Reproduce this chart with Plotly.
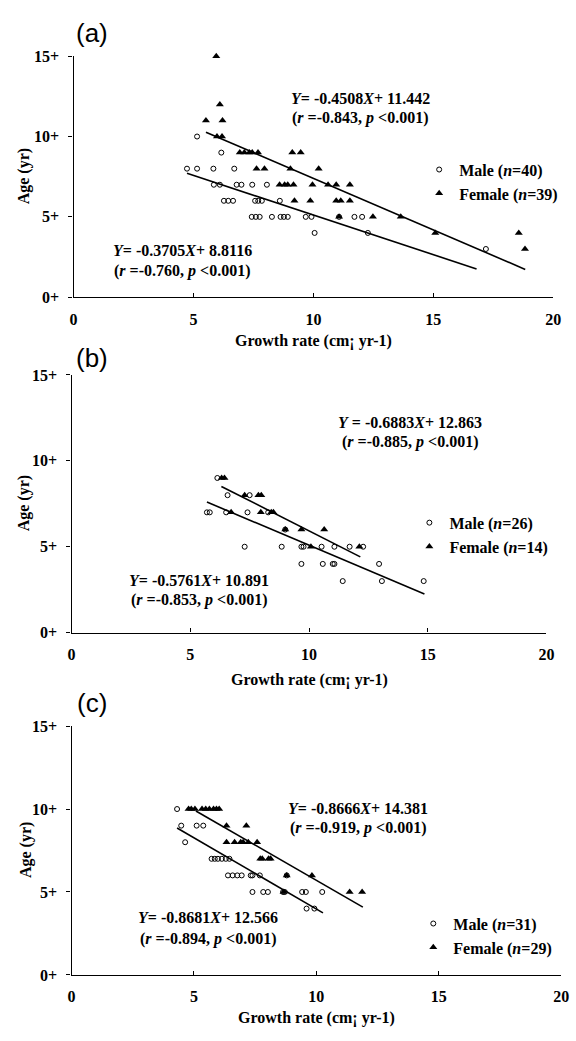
import plotly.graph_objects as go

W, H = 576, 1041

# ---------------- data (growth rate, age) ----------------
# Panel (a)
a_male_growth = [5.15, 6.16, 4.73, 5.15, 5.83, 6.70,
                 5.85, 6.10, 6.80, 7.00, 7.45, 8.06,
                 6.27, 6.45, 6.65, 7.57, 7.70, 7.85, 8.60,
                 7.43, 7.60, 7.76, 8.27, 8.63, 8.77, 8.93, 9.68, 9.92, 11.07, 11.71, 12.03,
                 10.05, 12.27, 17.19]
a_male_age = [10, 9, 8, 8, 8, 8,
              7, 7, 7, 7, 7, 7,
              6, 6, 6, 6, 6, 6, 6,
              5, 5, 5, 5, 5, 5, 5, 5, 5, 5, 5, 5,
              4, 4, 3]
a_female_growth = [5.95, 6.10, 5.52, 6.21, 5.98, 6.19,
                   6.93, 7.12, 7.33, 7.45, 7.69, 9.12, 9.47,
                   7.63, 7.96, 9.04, 10.22,
                   8.59, 8.80, 8.93, 9.17, 9.96, 10.61, 10.95, 11.52,
                   9.21, 9.87, 10.95, 11.14, 11.52,
                   11.07, 12.48, 13.64,
                   15.08, 18.56, 18.82]
a_female_age = [15, 12, 11, 11, 10, 10,
                9, 9, 9, 9, 9, 9, 9,
                8, 8, 8, 8,
                7, 7, 7, 7, 7, 7, 7, 7,
                6, 6, 6, 6, 6,
                5, 5, 5,
                4, 4, 3]
a_male_fit_x = [4.73, 16.80]
a_male_fit_y = [7.71, 1.76]
a_female_fit_x = [5.52, 18.83]
a_female_fit_y = [10.27, 1.73]

# Panel (b)
b_male_growth = [6.14, 6.57, 7.50,
                 5.70, 5.82, 6.51, 7.41, 8.28,
                 9.00,
                 7.29, 8.85, 9.68, 9.77, 10.53, 11.07, 11.71, 12.28,
                 9.68, 10.58, 11.00, 11.07, 12.95,
                 11.42, 13.07, 14.83]
b_male_age = [9, 8, 8,
              7, 7, 7, 7, 7,
              6,
              5, 5, 5, 5, 5, 5, 5, 5,
              4, 4, 4, 4, 4,
              3, 3, 3]
b_female_growth = [6.32, 6.44, 7.29, 7.87, 7.99,
                   6.72, 7.97, 8.41, 8.50,
                   9.00, 9.68, 10.64,
                   10.08, 12.12]
b_female_age = [9, 9, 8, 8, 8,
                7, 7, 7, 7,
                6, 6, 6,
                5, 5]
b_male_fit_x = [5.70, 14.86]
b_male_fit_y = [7.60, 2.25]
b_female_fit_x = [6.31, 12.16]
b_female_fit_y = [8.51, 4.41]

# Panel (c)
c_male_growth = [4.31, 4.48, 5.11, 5.38, 4.64,
                 5.72, 5.85, 5.98, 6.14, 6.30, 6.45,
                 6.39, 6.58, 6.77, 6.95, 7.32, 7.39, 7.69, 8.79,
                 7.39, 7.83, 8.02, 8.64, 8.71, 9.42, 9.57, 10.24,
                 9.60, 9.92]
c_male_age = [10, 9, 9, 9, 8,
              7, 7, 7, 7, 7, 7,
              6, 6, 6, 6, 6, 6, 6, 6,
              5, 5, 5, 5, 5, 5, 5, 5,
              4, 4]
c_female_growth = [4.78, 4.89, 5.04, 5.33, 5.48, 5.63, 5.80, 5.92, 6.03,
                   6.33, 7.14,
                   6.33, 6.66, 6.91, 7.01, 7.22, 7.58,
                   7.71, 7.79, 8.05, 8.13,
                   8.79, 9.82,
                   8.66, 11.36, 11.87]
c_female_age = [10, 10, 10, 10, 10, 10, 10, 10, 10,
                9, 9,
                8, 8, 8, 8, 8, 8,
                7, 7, 7, 7,
                6, 6,
                5, 5, 5]
c_male_fit_x = [4.31, 10.27]
c_male_fit_y = [8.86, 3.74]
c_female_fit_x = [5.08, 11.90]
c_female_fit_y = [9.88, 4.09]

panel_labels = ["(a)", "(b)", "(c)"]
male_names = ["Male (<i>n</i>=40)", "Male (<i>n</i>=26)", "Male (<i>n</i>=31)"]
female_names = ["Female (<i>n</i>=39)", "Female (<i>n</i>=14)", "Female (<i>n</i>=29)"]
eq_top = [["<i>Y</i>= -0.4508<i>X</i>+ 11.442", "(<i>r</i> =-0.843, <i>p</i> <0.001)"],
          ["<i>Y</i> = -0.6883<i>X</i>+ 12.863", "(<i>r</i> =-0.885, <i>p</i> <0.001)"],
          ["<i>Y</i>= -0.8666<i>X</i>+ 14.381", "(<i>r</i> =-0.919, <i>p</i> <0.001)"]]
eq_bot = [["<i>Y</i>= -0.3705<i>X</i>+ 8.8116", "(<i>r</i> =-0.760, <i>p</i> <0.001)"],
          ["<i>Y</i>= -0.5761<i>X</i>+ 10.891", "(<i>r</i> =-0.853, <i>p</i> <0.001)"],
          ["<i>Y</i>= -0.8681<i>X</i>+ 12.566", "(<i>r</i> =-0.894, <i>p</i> <0.001)"]]
x_tick_vals = [0, 5, 10, 15, 20]
x_tick_text = ["0", "5", "10", "15", "20"]
y_tick_vals = [0, 5, 10, 15]
y_tick_text = ["0+", "5+", "10+", "15+"]
x_title = "Growth rate (cm¡ yr-1)"
y_title = "Age (yr)"

# ---------------- layout geometry (pixels) ----------------
def pxx(x):
    return x / W

def pyy(y):
    return 1 - y / H

# plot-area boxes: left, right, top, bottom
boxes = [(71, 561, 49, 294), (69, 554, 373, 635), (69, 569, 730, 983)]
label_pos = [(90, 25), (90, 356), (90, 707)]
eq_top_pos = [(364, 92, 112), (415, 421, 441), (362, 814, 834)]
eq_bot_pos = [(182, 247, 267), (199, 582, 602), (208, 925, 946)]
legend_pos = [(424, 176.5), (414, 535.5), (418, 943)]
xtitle_y = [339, 683, 1027]
ytitle_x = [20, 20, 22]

SERIF = "Liberation Serif"
fig = go.Figure()

panels = [
    (a_male_growth, a_male_age, a_female_growth, a_female_age,
     a_male_fit_x, a_male_fit_y, a_female_fit_x, a_female_fit_y),
    (b_male_growth, b_male_age, b_female_growth, b_female_age,
     b_male_fit_x, b_male_fit_y, b_female_fit_x, b_female_fit_y),
    (c_male_growth, c_male_age, c_female_growth, c_female_age,
     c_male_fit_x, c_male_fit_y, c_female_fit_x, c_female_fit_y),
]

annotations = []
for i, (mg, ma, fg, fa, mfx, mfy, ffx, ffy) in enumerate(panels):
    xa = "x" if i == 0 else f"x{i+1}"
    ya = "y" if i == 0 else f"y{i+1}"
    leg = "legend" if i == 0 else f"legend{i+1}"
    fig.add_trace(go.Scatter(x=mfx, y=mfy, mode="lines", xaxis=xa, yaxis=ya,
                             line=dict(color="black", width=1.6), showlegend=False,
                             hoverinfo="skip"))
    fig.add_trace(go.Scatter(x=ffx, y=ffy, mode="lines", xaxis=xa, yaxis=ya,
                             line=dict(color="black", width=1.6), showlegend=False,
                             hoverinfo="skip"))
    fig.add_trace(go.Scatter(x=mg, y=ma, mode="markers", xaxis=xa, yaxis=ya,
                             name=male_names[i], legend=leg,
                             marker=dict(symbol="circle-open", size=5, color="black",
                                         line=dict(width=1, color="black")),
                             cliponaxis=False))
    fig.add_trace(go.Scatter(x=fg, y=fa, mode="markers", xaxis=xa, yaxis=ya,
                             name=female_names[i], legend=leg,
                             marker=dict(symbol="triangle-up", size=7, color="black"),
                             cliponaxis=False))

    l, r, t, b = boxes[i]
    axis_common = dict(showgrid=False, zeroline=False, showline=True,
                       linecolor="black", linewidth=1.3,
                       tickcolor="black", tickwidth=1.2,
                       tickfont=dict(family=SERIF, size=16, color="black", weight="bold"))
    xkey = "xaxis" if i == 0 else f"xaxis{i+1}"
    ykey = "yaxis" if i == 0 else f"yaxis{i+1}"
    fig.update_layout(**{
        xkey: dict(domain=[pxx(l), pxx(r)], range=[0, 20], anchor=ya,
                   tickmode="array", tickvals=x_tick_vals,
                   ticktext=["<b>%s</b>" % s for s in x_tick_text],
                   ticks="inside", ticklen=4,
                   ticklabelstandoff=7, **axis_common),
        ykey: dict(domain=[pyy(b), pyy(t)], range=[0, 15], anchor=xa,
                   tickmode="array", tickvals=y_tick_vals,
                   ticktext=["<b>%s</b>" % s for s in y_tick_text],
                   ticks="outside", ticklen=4, ticklabelstandoff=6, **axis_common),
    })
    lx, ly = legend_pos[i]
    fig.update_layout(**{leg: dict(x=pxx(lx), y=pyy(ly), xanchor="left", yanchor="middle",
                                   bgcolor="rgba(0,0,0,0)", borderwidth=0,
                                   font=dict(family=SERIF, size=16, color="black", weight="bold"),
                                   tracegroupgap=0, itemsizing="trace")})

    # panel label
    annotations.append(dict(text=panel_labels[i], x=pxx(label_pos[i][0]), y=pyy(label_pos[i][1]),
                            xref="paper", yref="paper", showarrow=False,
                            xanchor="center", yanchor="middle",
                            font=dict(family="Liberation Sans", size=26, color="black")))
    # equations
    for (txts, pos) in ((eq_top[i], eq_top_pos[i]), (eq_bot[i], eq_bot_pos[i])):
        cx, y1, y2 = pos
        for txt, yy in zip(txts, (y1, y2)):
            annotations.append(dict(text=txt, x=pxx(cx), y=pyy(yy), xref="paper", yref="paper",
                                    showarrow=False, xanchor="center", yanchor="middle",
                                    font=dict(family=SERIF, size=16, color="black", weight="bold")))
    # axis titles
    annotations.append(dict(text=x_title, x=pxx((l + r) / 2), y=pyy(xtitle_y[i]),
                            xref="paper", yref="paper", showarrow=False,
                            xanchor="center", yanchor="middle",
                            font=dict(family=SERIF, size=16, color="black", weight="bold")))
    annotations.append(dict(text=y_title, x=pxx(ytitle_x[i]), y=pyy((t + b) / 2),
                            xref="paper", yref="paper", showarrow=False, textangle=-90,
                            xanchor="center", yanchor="middle",
                            font=dict(family=SERIF, size=16, color="black", weight="bold")))

fig.update_layout(width=W, height=H, margin=dict(l=0, r=0, t=0, b=0),
                  paper_bgcolor="white", plot_bgcolor="white",
                  font=dict(family=SERIF, size=16, color="black"),
                  annotations=annotations, showlegend=True)

fig.write_html("out.html")
